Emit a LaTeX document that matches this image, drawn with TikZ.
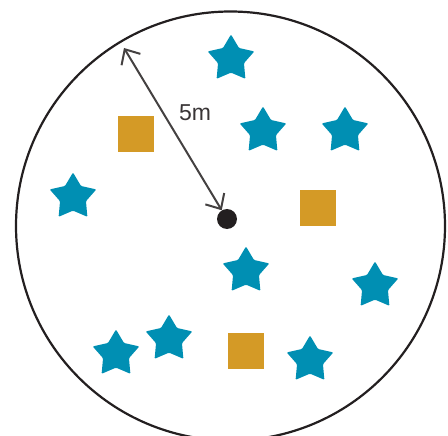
\documentclass[tikz,border=0pt]{standalone}
\usepackage{fontspec}
\setmainfont{Liberation Sans}
\usetikzlibrary{positioning,arrows.meta,shapes.geometric}
\definecolor{starblue}{HTML}{008FB3}
\definecolor{boxgold}{HTML}{D49A26}
\definecolor{ink}{HTML}{231F20}

\begin{document}
\begin{tikzpicture}[
  x=1pt,y=-1pt,
  font=\fontsize{23}{26}\selectfont,
  fieldring/.style={draw=ink,line width=2.2pt,circle,minimum size=429pt,inner sep=0pt},
  tree/.style={star,star points=5,star point ratio=1.8,fill=starblue,
               minimum size=49pt,inner sep=0pt,rounded corners=1pt},
  crate/.style={fill=boxgold,minimum size=36pt,inner sep=0pt},
  spot/.style={circle,fill=ink,minimum size=20pt,inner sep=0pt},
  span/.style={{Straight Barb[length=12pt,width=22pt]}-{Straight Barb[length=12pt,width=22pt]},
               line width=2pt,draw=ink!85}
]
\useasboundingbox (0,0) rectangle (448,436);
\node[fieldring] (zone) at (230.5,226) {};

\node[tree] (t1) at (231,59) {};
\node[tree] (t2) at (263,131) {};
\node[tree] (t3) at (345,131) {};
\node[tree] (t4) at (73,197) {};
\node[tree] (t5) at (246,271) {};
\node[tree] (t6) at (375,286) {};
\node[tree] (t7) at (169,339) {};
\node[tree] (t8) at (116,354) {};
\node[tree] (t9) at (310,360) {};

\node[crate] (c1) at (136,134) {};
\node[crate] (c2) at (318,208) {};
\node[crate] (c3) at (246,351) {};

\node[spot] (hub) at (227,219) {};
\coordinate (rim) at (124,48);

\draw[span] (hub)--node[pos=.6,right=15pt,inner sep=0pt,text=ink!90]{5m}(rim);
\end{tikzpicture}
\end{document}
